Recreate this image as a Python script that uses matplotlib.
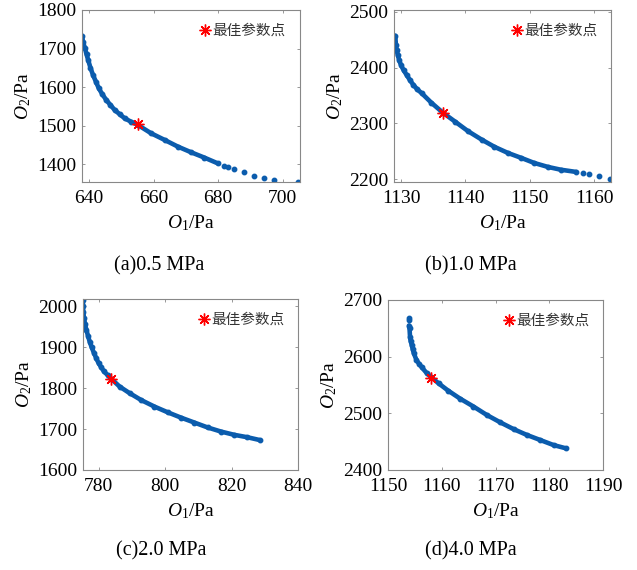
import matplotlib
matplotlib.use("Agg")
import matplotlib.pyplot as plt

plt.rcParams['font.family'] = ['Liberation Serif', 'Noto Sans CJK SC']
plt.rcParams['mathtext.fontset'] = 'custom'
plt.rcParams['mathtext.rm'] = 'Liberation Serif'
plt.rcParams['mathtext.it'] = 'Liberation Serif:italic'

# Pareto fronts (O1, O2 in Pa)
a_o1 = [637.8, 638.1, 638.7, 639.2, 639.7, 640.4, 641.2, 642.1, 643.0, 644.1, 645.3, 646.6, 647.9, 649.5,
        651.0, 653.1, 655.1, 659.2, 663.4, 667.5, 671.6, 675.7, 679.8]
a_o2 = [1733.6, 1718.1, 1700.8, 1685.3, 1670.5, 1650.8, 1631.6, 1614.3, 1597.0, 1581.5, 1566.8, 1553.8,
        1540.9, 1529.6, 1519.3, 1509.8, 1502.0, 1480.4, 1463.1, 1445.8, 1431.1, 1417.3, 1402.6]
a_tail_o1 = [681.9, 683.0, 685.0, 688.0, 691.1, 694.2, 697.3, 704.7]
a_tail_o2 = [1396.5, 1393.0, 1388.0, 1379.3, 1370.6, 1365.4, 1360.2, 1355.0]
a_best = (655.2, 1504)

b_o1 = [1129.1, 1129.2, 1129.3, 1129.5, 1129.7, 1130.0, 1130.4, 1130.9, 1131.4, 1131.9, 1132.5, 1133.2,
        1134.7, 1136.5, 1138.4, 1140.4, 1142.5, 1144.5, 1146.6, 1148.7, 1150.7, 1152.8, 1154.8, 1157.2]
b_o2 = [2457, 2440, 2431, 2422, 2413, 2404, 2395, 2386, 2377, 2369, 2361, 2354,
        2337, 2319, 2303, 2286, 2271, 2258, 2247, 2238, 2229, 2222, 2217, 2213]
b_tail_o1 = [1158.2, 1159.2, 1160.8, 1162.5]
b_tail_o2 = [2211, 2209, 2206, 2201]
b_best = (1136.5, 2319)

c_o1 = [775.3, 775.3, 775.4, 775.6, 775.9, 776.3, 776.8, 777.3, 777.9, 778.6, 779.3, 780.0, 780.8, 781.6,
        782.7, 783.8, 786.3, 789.3, 792.8, 796.8, 800.8, 804.8, 808.8, 812.8, 816.8, 820.8, 824.8, 828.6]
c_o2 = [2016, 2000, 1986, 1971, 1957, 1943, 1928, 1914, 1900, 1886, 1873, 1861, 1851, 1841,
        1832, 1823, 1804, 1788, 1771, 1755, 1741, 1728, 1716, 1704, 1694, 1686, 1680, 1673]
c_tail_o1 = []
c_tail_o2 = []
c_best = (783.8, 1823)

d_o1 = [1153.9, 1154.0, 1154.1, 1154.2, 1154.4, 1154.6, 1154.8, 1155.3, 1155.8, 1156.3, 1157.2, 1158.0,
        1159.4, 1161.2, 1163.4, 1165.9, 1168.4, 1170.9, 1173.4, 1175.8, 1178.3, 1180.8, 1183.2]
d_o2 = [2655, 2650, 2635, 2628, 2621, 2613, 2606, 2594, 2587, 2581, 2571, 2564,
        2553, 2540, 2526, 2512, 2497, 2484, 2472, 2462, 2453, 2444, 2438]
d_tail_o1 = [1153.9, 1153.9]
d_tail_o2 = [2668, 2665]
d_best = (1158.0, 2563)

captions = ["(a)0.5 MPa", "(b)1.0 MPa", "(c)2.0 MPa", "(d)4.0 MPa"]
xlims = [(637.8, 705.2), (1128.9, 1162.6), (775.3, 840), (1150, 1190)]
ylims = [(1354, 1800), (2195, 2503), (1600, 2018), (2400, 2700)]
xticks = [[640, 660, 680, 700], [1130, 1140, 1150, 1160], [780, 800, 820, 840], [1150, 1160, 1170, 1180, 1190]]
yticks = [[1400, 1500, 1600, 1700, 1800], [2200, 2300, 2400, 2500], [1600, 1700, 1800, 1900, 2000], [2400, 2500, 2600, 2700]]

W, H = 637, 570
boxes = [(82, 10, 299.5, 182), (394, 10, 611, 182), (83, 299, 298, 470), (388, 300, 603, 470)]
cap_pos = [(159, 266), (471, 266), (161, 551), (471, 551)]

data = [(a_o1, a_o2, a_tail_o1, a_tail_o2, a_best),
        (b_o1, b_o2, b_tail_o1, b_tail_o2, b_best),
        (c_o1, c_o2, c_tail_o1, c_tail_o2, c_best),
        (d_o1, d_o2, d_tail_o1, d_tail_o2, d_best)]

blue = '#0b5cad'
fig = plt.figure(figsize=(W / 100, H / 100), dpi=100)

for i, (x, y, tx, ty, best) in enumerate(data):
    l, t, r, b = boxes[i]
    ax = fig.add_axes([l / W, 1 - b / H, (r - l) / W, (b - t) / H])
    ax.plot(x, y, '-', color=blue, lw=3.3, solid_capstyle='round', solid_joinstyle='round')
    ax.plot(x, y, 'o', color=blue, ms=3.2, ls='none')
    ax.plot(tx, ty, 'o', color=blue, ms=3.2, ls='none')
    ax.plot([best[0]], [best[1]], ls='none', marker=(8, 2, 0), color='red', ms=8.5, mew=1,
            label='最佳参数点')
    ax.set_xlim(xlims[i])
    ax.set_ylim(ylims[i])
    ax.set_xticks(xticks[i])
    ax.set_yticks(yticks[i])
    ax.tick_params(direction='in', length=2.5, width=0.6, color='#888888', labelsize=14,
                   top=True, right=True, pad=4)
    ax.tick_params(axis='x', pad=5.5)
    for s in ax.spines.values():
        s.set_color('#888888')
        s.set_linewidth(0.8)
    ax.set_xlabel(r'$O_\mathrm{1}$/Pa', fontsize=14, labelpad=5)
    ax.set_ylabel(r'$O_\mathrm{2}$/Pa', fontsize=14, labelpad=3)
    leg = ax.legend(loc='upper right', frameon=False, handlelength=0.6, handletextpad=0.2,
                    borderaxespad=0.55, prop={'family': 'Noto Sans CJK SC', 'size': 10.5})
    for txt in leg.get_texts():
        txt.set_color('#333333')
    fig.text(cap_pos[i][0] / W, 1 - cap_pos[i][1] / H, captions[i], fontsize=14.5,
             ha='center', va='center')

fig.savefig('out.png', dpi=100)
